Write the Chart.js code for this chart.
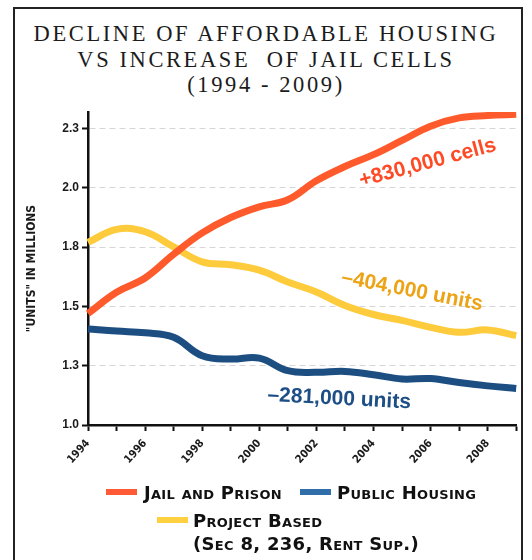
<!DOCTYPE html>
<html>
<head>
<meta charset="utf-8">
<script src="https://cdn.jsdelivr.net/npm/chart.js@4.4.0/dist/chart.umd.min.js"></script>
<style>
body { margin: 0; width: 532px; height: 560px; background: #fff; overflow: hidden; position: relative; }
#frame { position: absolute; left: 13px; top: 7px; width: 506px; height: 600px; border: 2px solid #222; border-bottom: none; }
#title { position: absolute; left: 0; top: 21px; width: 532px; text-align: center; white-space: pre;
  font-family: "Liberation Serif", serif; font-size: 22.5px; line-height: 25.5px; letter-spacing: 2.6px; color: #1c1c1c; }
#chart { position: absolute; left: 0; top: 0; }
.lg { position: absolute; font-family: "DejaVu Sans", sans-serif; font-weight: bold; font-variant: small-caps;
  font-size: 18px; line-height: 18px; letter-spacing: 0.3px; color: #111; white-space: pre; }
.sw { position: absolute; width: 31px; height: 6px; }
</style>
</head>
<body>
<div id="frame"></div>
<div id="title">DECLINE OF AFFORDABLE HOUSING
VS INCREASE  OF JAIL CELLS
(1994 - 2009)</div>
<canvas id="chart" width="532" height="560"></canvas>

<div class="sw" style="left:106px; top:489px; background:#ff5a36;"></div>
<div class="lg" style="left:144px; top:484px;">Jail and Prison</div>
<div class="sw" style="left:300px; top:489px; background:#2f6ea8;"></div>
<div class="lg" style="left:337px; top:484px;">Public Housing</div>
<div class="sw" style="left:157px; top:517px; background:#ffd040;"></div>
<div class="lg" style="left:193px; top:512px;">Project Based</div>
<div class="lg" style="left:193px; top:535px;">(Sec 8, 236, Rent Sup.)</div>

<script>
// values, millions of units
const years = [1994, 1995, 1996, 1997, 1998, 1999, 2000, 2001, 2002, 2003, 2004, 2005, 2006, 2007, 2008, 2009];
const jailPrison    = [1.47, 1.56, 1.62, 1.72, 1.81, 1.875, 1.92, 1.95, 2.03, 2.09, 2.14, 2.20, 2.26, 2.295, 2.305, 2.31];
const publicHousing = [1.405, 1.396, 1.389, 1.37, 1.292, 1.278, 1.282, 1.229, 1.222, 1.226, 1.212, 1.194, 1.196, 1.179, 1.165, 1.154];
const projectBased  = [1.77, 1.825, 1.815, 1.751, 1.688, 1.676, 1.653, 1.603, 1.561, 1.504, 1.466, 1.441, 1.412, 1.391, 1.401, 1.377];

const yTickValues = [1.0, 1.25, 1.5, 1.75, 2.0, 2.25];
const yTickLabels = ['1.0', '1.3', '1.5', '1.8', '2.0', '2.3'];
const xTickLabels = ['1994', '1996', '1998', '2000', '2002', '2004', '2006', '2008'];

const notes = [
    { text: '+830,000 cells', year: 2005.9, value: 2.105, angle: -15, color: '#ff4a26' },
    { text: '\u2013404,000 units', year: 2005.35, value: 1.565, angle: 11, color: '#eda316' },
    { text: '\u2013281,000 units', year: 2002.8, value: 1.11, angle: 3, color: '#1d4f86' },
];

const notesPlugin = {
    id: 'notes',
    afterDatasetsDraw(chart) {
        const { ctx, scales: { x, y } } = chart;
        notes.forEach(n => {
            ctx.save();
            ctx.translate(x.getPixelForValue(n.year - years[0]), y.getPixelForValue(n.value));
            ctx.rotate(n.angle * Math.PI / 180);
            ctx.font = 'bold 21px "Liberation Sans", Arial, sans-serif';
            ctx.fillStyle = n.color;
            ctx.textAlign = 'center';
            ctx.textBaseline = 'middle';
            ctx.fillText(n.text, 0, 0);
            ctx.restore();
        });
    }
};

const ctx = document.getElementById('chart').getContext('2d');
const chart = new Chart(ctx, {
    type: 'line',
    data: {
        labels: years.map(String),
        datasets: [
            { label: 'Jail and Prison', data: jailPrison, borderColor: '#ff5a2c' },
            { label: 'Public Housing', data: publicHousing, borderColor: '#1d4e82' },
            { label: 'Project Based', data: projectBased, borderColor: '#fdcb3c' },
        ],
    },
    options: {
        responsive: false,
        animation: false,
        layout: { padding: { left: 20, top: 112, right: 14, bottom: 80 } },
        elements: {
            line: { borderWidth: 7, tension: 0.4, fill: false },
            point: { radius: 0 },
        },
        plugins: {
            legend: { display: false },
            tooltip: { enabled: false },
        },
        scales: {
            x: {
                type: 'category',
                afterFit(scale) { scale.height = 55; },
                grid: { drawOnChartArea: false, tickLength: 6, tickColor: '#111', tickWidth: 2 },
                border: { color: '#111', width: 2.5 },
                ticks: {
                    autoSkip: false,
                    minRotation: 48,
                    maxRotation: 48,
                    padding: 6,
                    color: '#1a1a1a',
                    font: { family: '"DejaVu Sans Condensed", sans-serif', weight: 'bold', size: 11 },
                    callback: (val, i) => xTickLabels.includes(String(years[i])) ? String(years[i]) : '',
                },
            },
            y: {
                min: 1.0,
                max: 2.32,
                afterFit(scale) { scale.width = 68; },
                afterBuildTicks(scale) { scale.ticks = yTickValues.map(v => ({ value: v })); },
                grid: {
                    color: c => c.tick && c.tick.value === 1 ? 'rgba(0,0,0,0)' : '#d6d6d6',
                    lineWidth: 1,
                    tickLength: 6,
                    tickColor: '#111',
                    tickWidth: 2,
                },
                border: { color: '#111', width: 2.5, dash: [6, 4] },
                ticks: {
                    padding: 3,
                    color: '#1a1a1a',
                    font: { family: '"Liberation Sans", Arial, sans-serif', weight: 'bold', size: 12 },
                    callback: (val, i) => yTickLabels[i],
                },
                title: {
                    display: true,
                    text: '"UNITS" IN MILLIONS',
                    color: '#1a1a1a',
                    padding: { top: 5, bottom: 0 },
                    font: { family: '"DejaVu Sans Condensed", sans-serif', weight: 'bold', size: 12 },
                },
            },
        },
    },
    plugins: [notesPlugin],
});
</script>
</body>
</html>
